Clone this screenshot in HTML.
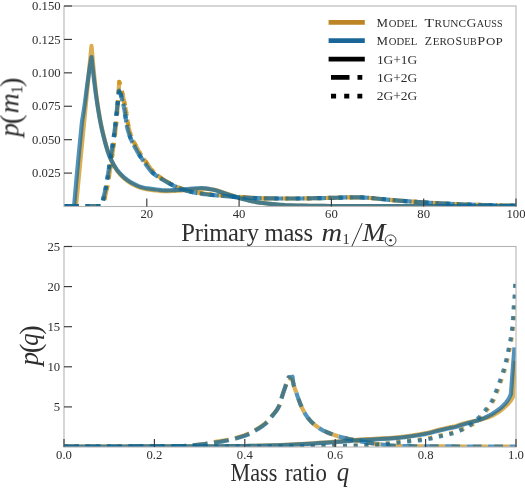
<!DOCTYPE html>
<html><head><meta charset="utf-8"><title>chart</title>
<style>html,body{margin:0;padding:0;background:#fff;}body{width:525px;height:488px;overflow:hidden;font-family:"Liberation Serif",serif;}</style>
</head><body>
<svg width="525" height="488" viewBox="0 0 525 488" style="display:block">
<rect width="525" height="488" fill="#fff"/>
<defs><clipPath id="ct"><rect x="64.0" y="6.0" width="452.0" height="200.5"/></clipPath><clipPath id="cb"><rect x="64.0" y="246.5" width="452.0" height="200.5"/></clipPath></defs>
<g clip-path="url(#ct)">
<path d="M64.00,206.00 L75.40,206.00 L76.00,206.00 L91.50,45.90 L92.42,56.61 L93.33,66.75 L94.25,76.24 L95.17,85.00 L96.08,92.95 L97.00,100.00 L97.88,106.09 L98.77,111.70 L99.65,116.86 L100.53,121.61 L101.42,125.98 L102.30,130.00 L103.68,135.87 L105.07,141.38 L106.45,146.46 L107.83,151.07 L109.22,155.13 L110.60,158.60 L112.10,161.87 L113.60,164.83 L115.10,167.50 L116.60,169.89 L118.10,171.98 L119.60,173.80 L121.65,175.98 L123.70,177.94 L125.75,179.69 L127.80,181.24 L129.85,182.61 L131.90,183.80 L133.95,184.88 L136.00,185.90 L138.05,186.82 L140.10,187.62 L142.15,188.29 L144.20,188.80 L146.00,189.14 L147.80,189.43 L149.60,189.68 L151.40,189.90 L153.20,190.10 L155.00,190.30 L156.67,190.49 L158.33,190.69 L160.00,190.89 L161.67,191.05 L163.33,191.16 L165.00,191.20 L167.50,191.18 L170.00,191.11 L172.50,191.01 L175.00,190.88 L177.50,190.75 L180.00,190.60 L182.00,190.45 L184.00,190.26 L186.00,190.04 L188.00,189.81 L190.00,189.59 L192.00,189.40 L193.83,189.23 L195.67,189.06 L197.50,188.88 L199.33,188.74 L201.17,188.64 L203.00,188.60 L204.67,188.64 L206.33,188.73 L208.00,188.88 L209.67,189.07 L211.33,189.28 L213.00,189.50 L215.17,189.91 L217.33,190.50 L219.50,191.21 L221.67,191.99 L223.83,192.77 L226.00,193.50 L228.33,194.25 L230.67,195.04 L233.00,195.83 L235.33,196.60 L237.67,197.33 L240.00,198.00 L243.33,198.91 L246.67,199.80 L250.00,200.64 L253.33,201.41 L256.67,202.08 L260.00,202.60 L265.00,203.24 L270.00,203.82 L275.00,204.34 L280.00,204.76 L285.00,205.09 L290.00,205.30 L296.67,205.49 L303.33,205.65 L310.00,205.78 L316.67,205.88 L323.33,205.95 L330.00,206.00 L341.67,206.06 L353.33,206.11 L365.00,206.15 L376.67,206.18 L388.33,206.19 L400.00,206.20 L419.33,206.20 L438.67,206.20 L458.00,206.20 L477.33,206.20 L496.67,206.20 L516.00,206.20" fill="none" stroke="#cd8c0a" stroke-opacity="0.7" stroke-width="4.2" stroke-linejoin="round" stroke-linecap="square"/>
<path d="M64.00,206.00 L102.60,206.00" fill="none" stroke="#cd8c0a" stroke-opacity="0.7" stroke-width="4.2" stroke-linejoin="round" stroke-linecap="butt" stroke-dasharray="14.98 6.48" stroke-dashoffset="0.00"/><path d="M102.60,206.00 L102.88,205.07 L103.17,204.10 L103.45,203.10 L103.73,202.07 L104.02,201.00 L104.30,199.90 L104.80,197.87 L105.30,195.75 L105.80,193.53 L106.30,191.22 L106.80,188.81 L107.30,186.30 L107.50,185.25 L107.70,184.16 L107.90,183.03 L108.10,181.87 L108.30,180.69 L108.50,179.50 L108.87,177.28 L109.23,175.01 L109.60,172.68 L109.97,170.30 L110.33,167.87 L110.70,165.40 L111.50,160.01 L112.29,154.61 L113.09,149.05 L113.89,143.19 L114.68,136.89 L115.48,130.00 L115.81,126.86 L116.15,123.50 L116.48,119.94 L116.82,116.17 L117.16,112.19 L117.49,108.00 L117.77,104.21 L118.06,100.15 L118.34,95.86 L118.63,91.36 L118.92,86.66 L119.20,81.80 L120.22,85.13 L121.23,88.87 L122.25,92.98 L123.27,97.40 L124.28,102.09 L125.30,107.00" fill="none" stroke="#cd8c0a" stroke-opacity="0.7" stroke-width="4.2" stroke-linejoin="round" stroke-linecap="butt" stroke-dasharray="14.98 6.48" stroke-dashoffset="15.14"/><path d="M125.30,107.00 L125.95,110.61 L126.60,114.80 L127.25,119.20 L127.90,123.44 L128.55,127.17 L129.20,130.00 L130.50,134.14 L131.80,137.61 L133.10,140.57 L134.40,143.18 L135.70,145.60 L137.00,148.00 L138.43,150.58 L139.87,152.97 L141.30,155.22 L142.73,157.37 L144.17,159.45 L145.60,161.50 L146.83,163.28 L148.07,165.07 L149.30,166.81 L150.53,168.46 L151.77,169.97 L153.00,171.30 L155.00,173.19 L157.00,174.91 L159.00,176.48 L161.00,177.92 L163.00,179.25 L165.00,180.50 L167.83,182.17 L170.67,183.75 L173.50,185.22 L176.33,186.56 L179.17,187.76 L182.00,188.80 L184.17,189.50 L186.33,190.15 L188.50,190.75 L190.67,191.29 L192.83,191.77 L195.00,192.20 L197.50,192.64 L200.00,193.03 L202.50,193.39 L205.00,193.71 L207.50,194.02 L210.00,194.30 L212.17,194.53 L214.33,194.74 L216.50,194.94 L218.67,195.13 L220.83,195.31 L223.00,195.50 L225.67,195.73 L228.33,195.96 L231.00,196.18 L233.67,196.39 L236.33,196.60 L239.00,196.80 L242.50,197.07 L246.00,197.35 L249.50,197.63 L253.00,197.88 L256.50,198.07 L260.00,198.20 L263.33,198.28 L266.67,198.35 L270.00,198.41 L273.33,198.46 L276.67,198.49 L280.00,198.50 L283.33,198.50 L286.67,198.50 L290.00,198.50 L293.33,198.50 L296.67,198.50 L300.00,198.50 L302.50,198.48 L305.00,198.44 L307.50,198.39 L310.00,198.32 L312.50,198.26 L315.00,198.20 L317.67,198.15 L320.33,198.10 L323.00,198.06 L325.67,198.01 L328.33,197.96 L331.00,197.90 L333.67,197.83 L336.33,197.73 L339.00,197.63 L341.67,197.54 L344.33,197.46 L347.00,197.40 L348.50,197.38 L350.00,197.35 L351.50,197.33 L353.00,197.32 L354.50,197.30 L356.00,197.30 L357.50,197.31 L359.00,197.35 L360.50,197.40 L362.00,197.46 L363.50,197.53 L365.00,197.60 L367.67,197.76 L370.33,197.97 L373.00,198.21 L375.67,198.48 L378.33,198.75 L381.00,199.00 L383.93,199.27 L386.87,199.54 L389.80,199.82 L392.73,200.09 L395.67,200.35 L398.60,200.60 L402.17,200.89 L405.73,201.17 L409.30,201.44 L412.87,201.70 L416.43,201.96 L420.00,202.20 L423.33,202.42 L426.67,202.63 L430.00,202.84 L433.33,203.04 L436.67,203.22 L440.00,203.40 L445.00,203.65 L450.00,203.90 L455.00,204.13 L460.00,204.34 L465.00,204.54 L470.00,204.70 L477.67,204.92 L485.33,205.13 L493.00,205.32 L500.67,205.48 L508.33,205.61 L516.00,205.70" fill="none" stroke="#cd8c0a" stroke-opacity="0.7" stroke-width="4.2" stroke-linejoin="round" stroke-linecap="butt" stroke-dasharray="14.98 6.48" stroke-dashoffset="8.67"/>
<path d="M64.00,206.00 L102.60,206.00" fill="none" stroke="#cd8c0a" stroke-opacity="0.7" stroke-width="4.2" stroke-linejoin="round" stroke-linecap="butt" stroke-dasharray="4.05 6.68" stroke-dashoffset="0.00"/><path d="M102.60,206.00 L102.88,205.07 L103.17,204.10 L103.45,203.10 L103.73,202.07 L104.02,201.00 L104.30,199.90 L104.80,197.87 L105.30,195.75 L105.80,193.53 L106.30,191.22 L106.80,188.81 L107.30,186.30 L107.50,185.25 L107.70,184.16 L107.90,183.03 L108.10,181.87 L108.30,180.69 L108.50,179.50 L108.87,177.28 L109.23,175.01 L109.60,172.68 L109.97,170.30 L110.33,167.87 L110.70,165.40 L111.50,160.01 L112.29,154.61 L113.09,149.05 L113.89,143.19 L114.68,136.89 L115.48,130.00 L115.81,126.86 L116.15,123.50 L116.48,119.94 L116.82,116.17 L117.16,112.19 L117.49,108.00 L117.77,104.21 L118.06,100.15 L118.34,95.86 L118.63,91.36 L118.92,86.66 L119.20,81.80 L120.22,85.13 L121.23,88.87 L122.25,92.98 L123.27,97.40 L124.28,102.09 L125.30,107.00" fill="none" stroke="#cd8c0a" stroke-opacity="0.7" stroke-width="4.2" stroke-linejoin="round" stroke-linecap="butt" stroke-dasharray="4.05 6.68" stroke-dashoffset="4.41"/><path d="M125.30,107.00 L125.95,110.61 L126.60,114.80 L127.25,119.20 L127.90,123.44 L128.55,127.17 L129.20,130.00 L130.50,134.14 L131.80,137.61 L133.10,140.57 L134.40,143.18 L135.70,145.60 L137.00,148.00 L138.43,150.58 L139.87,152.97 L141.30,155.22 L142.73,157.37 L144.17,159.45 L145.60,161.50 L146.83,163.28 L148.07,165.07 L149.30,166.81 L150.53,168.46 L151.77,169.97 L153.00,171.30 L155.00,173.19 L157.00,174.91 L159.00,176.48 L161.00,177.92 L163.00,179.25 L165.00,180.50 L167.83,182.17 L170.67,183.75 L173.50,185.22 L176.33,186.56 L179.17,187.76 L182.00,188.80 L184.17,189.50 L186.33,190.15 L188.50,190.75 L190.67,191.29 L192.83,191.77 L195.00,192.20 L197.50,192.64 L200.00,193.03 L202.50,193.39 L205.00,193.71 L207.50,194.02 L210.00,194.30 L212.17,194.53 L214.33,194.74 L216.50,194.94 L218.67,195.13 L220.83,195.31 L223.00,195.50 L225.67,195.73 L228.33,195.96 L231.00,196.18 L233.67,196.39 L236.33,196.60 L239.00,196.80 L242.50,197.07 L246.00,197.35 L249.50,197.63 L253.00,197.88 L256.50,198.07 L260.00,198.20 L263.33,198.28 L266.67,198.35 L270.00,198.41 L273.33,198.46 L276.67,198.49 L280.00,198.50 L283.33,198.50 L286.67,198.50 L290.00,198.50 L293.33,198.50 L296.67,198.50 L300.00,198.50 L302.50,198.48 L305.00,198.44 L307.50,198.39 L310.00,198.32 L312.50,198.26 L315.00,198.20 L317.67,198.15 L320.33,198.10 L323.00,198.06 L325.67,198.01 L328.33,197.96 L331.00,197.90 L333.67,197.83 L336.33,197.73 L339.00,197.63 L341.67,197.54 L344.33,197.46 L347.00,197.40 L348.50,197.38 L350.00,197.35 L351.50,197.33 L353.00,197.32 L354.50,197.30 L356.00,197.30 L357.50,197.31 L359.00,197.35 L360.50,197.40 L362.00,197.46 L363.50,197.53 L365.00,197.60 L367.67,197.76 L370.33,197.97 L373.00,198.21 L375.67,198.48 L378.33,198.75 L381.00,199.00 L383.93,199.27 L386.87,199.54 L389.80,199.82 L392.73,200.09 L395.67,200.35 L398.60,200.60 L402.17,200.89 L405.73,201.17 L409.30,201.44 L412.87,201.70 L416.43,201.96 L420.00,202.20 L423.33,202.42 L426.67,202.63 L430.00,202.84 L433.33,203.04 L436.67,203.22 L440.00,203.40 L445.00,203.65 L450.00,203.90 L455.00,204.13 L460.00,204.34 L465.00,204.54 L470.00,204.70 L477.67,204.92 L485.33,205.13 L493.00,205.32 L500.67,205.48 L508.33,205.61 L516.00,205.70" fill="none" stroke="#cd8c0a" stroke-opacity="0.7" stroke-width="4.2" stroke-linejoin="round" stroke-linecap="butt" stroke-dasharray="4.05 6.68" stroke-dashoffset="5.94"/>
<path d="M64.00,206.00 L73.40,206.00 L74.10,206.00 L75.80,186.53 L77.50,167.93 L79.20,150.00 L79.70,144.92 L80.20,139.96 L80.70,135.00 L81.17,130.06 L81.63,125.12 L82.10,121.00 L82.40,119.04 L82.70,117.35 L83.00,115.60 L83.77,110.68 L84.53,105.52 L85.30,100.00 L85.67,97.06 L86.03,93.95 L86.40,91.00 L88.10,78.56 L89.80,67.07 L91.50,57.00 L92.37,65.13 L93.23,72.92 L94.10,80.34 L94.97,87.35 L95.83,93.92 L96.70,100.00 L97.58,105.82 L98.47,111.37 L99.35,116.60 L100.23,121.48 L101.12,125.96 L102.00,130.00 L103.40,135.86 L104.80,141.34 L106.20,146.38 L107.60,150.93 L109.00,154.92 L110.40,158.30 L111.93,161.48 L113.47,164.34 L115.00,166.91 L116.53,169.19 L118.07,171.22 L119.60,173.00 L121.65,175.13 L123.70,177.06 L125.75,178.80 L127.80,180.35 L129.85,181.72 L131.90,182.90 L133.95,183.96 L136.00,184.96 L138.05,185.86 L140.10,186.64 L142.15,187.30 L144.20,187.80 L146.00,188.14 L147.80,188.42 L149.60,188.67 L151.40,188.89 L153.20,189.09 L155.00,189.30 L156.67,189.51 L158.33,189.73 L160.00,189.95 L161.67,190.13 L163.33,190.25 L165.00,190.30 L167.50,190.28 L170.00,190.23 L172.50,190.15 L175.00,190.04 L177.50,189.93 L180.00,189.80 L182.00,189.66 L184.00,189.45 L186.00,189.21 L188.00,188.97 L190.00,188.75 L192.00,188.60 L193.67,188.51 L195.33,188.41 L197.00,188.33 L198.67,188.26 L200.33,188.22 L202.00,188.20 L203.67,188.25 L205.33,188.40 L207.00,188.63 L208.67,188.90 L210.33,189.20 L212.00,189.50 L214.17,189.97 L216.33,190.58 L218.50,191.28 L220.67,192.03 L222.83,192.78 L225.00,193.50 L227.33,194.26 L229.67,195.04 L232.00,195.84 L234.33,196.61 L236.67,197.34 L239.00,198.00 L242.50,198.92 L246.00,199.81 L249.50,200.65 L253.00,201.41 L256.50,202.07 L260.00,202.60 L265.00,203.23 L270.00,203.81 L275.00,204.33 L280.00,204.76 L285.00,205.09 L290.00,205.30 L296.67,205.49 L303.33,205.65 L310.00,205.78 L316.67,205.88 L323.33,205.95 L330.00,206.00 L341.67,206.06 L353.33,206.11 L365.00,206.15 L376.67,206.18 L388.33,206.19 L400.00,206.20 L419.33,206.20 L438.67,206.20 L458.00,206.20 L477.33,206.20 L496.67,206.20 L516.00,206.20" fill="none" stroke="#08659e" stroke-opacity="0.7" stroke-width="4.2" stroke-linejoin="round" stroke-linecap="square"/>
<path d="M64.00,206.00 L101.30,206.00 L101.58,205.07 L101.87,204.10 L102.15,203.10 L102.43,202.07 L102.72,201.00 L103.00,199.90 L103.50,197.87 L104.00,195.75 L104.50,193.53 L105.00,191.22 L105.50,188.81 L106.00,186.30 L106.20,185.25 L106.40,184.16 L106.60,183.03 L106.80,181.87 L107.00,180.69 L107.20,179.50 L107.57,177.27 L107.93,174.96 L108.30,172.60 L108.67,170.21 L109.03,167.80 L109.40,165.40 L110.28,159.74 L111.17,154.20 L112.05,148.60 L112.93,142.81 L113.82,136.66 L114.70,130.00 L115.10,126.66 L115.50,123.03 L115.90,119.24 L116.30,115.38 L116.70,111.60 L117.10,108.00 L117.45,104.99 L117.80,102.03 L118.15,99.12 L118.50,96.27 L118.85,93.46 L119.20,90.70 L119.98,92.59 L120.77,94.88 L121.55,97.52 L122.33,100.45 L123.12,103.63 L123.90,107.00 L124.55,110.37 L125.20,114.48 L125.85,118.92 L126.50,123.26 L127.15,127.09 L127.80,130.00 L129.10,134.23 L130.40,137.80 L131.70,140.86 L133.00,143.57 L134.30,146.06 L135.60,148.50 L137.03,151.10 L138.47,153.50 L139.90,155.75 L141.33,157.88 L142.77,159.95 L144.20,162.00 L145.43,163.79 L146.67,165.60 L147.90,167.36 L149.13,169.02 L150.37,170.52 L151.60,171.80 L153.83,173.75 L156.07,175.47 L158.30,177.00 L160.53,178.40 L162.77,179.72 L165.00,181.00 L167.83,182.61 L170.67,184.18 L173.50,185.66 L176.33,187.03 L179.17,188.25 L182.00,189.30 L184.17,190.00 L186.33,190.65 L188.50,191.25 L190.67,191.79 L192.83,192.27 L195.00,192.70 L197.50,193.14 L200.00,193.53 L202.50,193.89 L205.00,194.21 L207.50,194.52 L210.00,194.80 L212.17,195.03 L214.33,195.24 L216.50,195.44 L218.67,195.63 L220.83,195.81 L223.00,196.00 L225.67,196.24 L228.33,196.47 L231.00,196.71 L233.67,196.93 L236.33,197.13 L239.00,197.30 L242.50,197.49 L246.00,197.68 L249.50,197.84 L253.00,197.99 L256.50,198.11 L260.00,198.20 L263.33,198.27 L266.67,198.34 L270.00,198.41 L273.33,198.46 L276.67,198.49 L280.00,198.50 L283.33,198.50 L286.67,198.50 L290.00,198.50 L293.33,198.50 L296.67,198.50 L300.00,198.50 L302.50,198.48 L305.00,198.44 L307.50,198.39 L310.00,198.32 L312.50,198.26 L315.00,198.20 L317.67,198.15 L320.33,198.10 L323.00,198.06 L325.67,198.01 L328.33,197.96 L331.00,197.90 L333.67,197.83 L336.33,197.73 L339.00,197.63 L341.67,197.54 L344.33,197.46 L347.00,197.40 L348.50,197.38 L350.00,197.35 L351.50,197.33 L353.00,197.32 L354.50,197.30 L356.00,197.30 L357.50,197.31 L359.00,197.35 L360.50,197.40 L362.00,197.46 L363.50,197.53 L365.00,197.60 L367.67,197.76 L370.33,197.97 L373.00,198.21 L375.67,198.48 L378.33,198.75 L381.00,199.00 L383.93,199.27 L386.87,199.54 L389.80,199.82 L392.73,200.09 L395.67,200.35 L398.60,200.60 L402.17,200.89 L405.73,201.17 L409.30,201.44 L412.87,201.70 L416.43,201.96 L420.00,202.20 L423.33,202.42 L426.67,202.63 L430.00,202.84 L433.33,203.04 L436.67,203.22 L440.00,203.40 L445.00,203.65 L450.00,203.90 L455.00,204.13 L460.00,204.34 L465.00,204.54 L470.00,204.70 L477.67,204.92 L485.33,205.13 L493.00,205.32 L500.67,205.48 L508.33,205.61 L516.00,205.70" fill="none" stroke="#08659e" stroke-opacity="0.7" stroke-width="4.2" stroke-linejoin="round" stroke-linecap="butt" stroke-dasharray="14.98 6.48"/>
<path d="M64.00,206.00 L101.30,206.00 L101.58,205.07 L101.87,204.10 L102.15,203.10 L102.43,202.07 L102.72,201.00 L103.00,199.90 L103.50,197.87 L104.00,195.75 L104.50,193.53 L105.00,191.22 L105.50,188.81 L106.00,186.30 L106.20,185.25 L106.40,184.16 L106.60,183.03 L106.80,181.87 L107.00,180.69 L107.20,179.50 L107.57,177.27 L107.93,174.96 L108.30,172.60 L108.67,170.21 L109.03,167.80 L109.40,165.40 L110.28,159.74 L111.17,154.20 L112.05,148.60 L112.93,142.81 L113.82,136.66 L114.70,130.00 L115.10,126.69 L115.50,123.13 L115.90,119.39 L116.30,115.57 L116.70,111.74 L117.10,108.00 L117.45,104.79 L117.80,101.57 L118.15,98.36 L118.50,95.14 L118.85,91.92 L119.20,88.70 L119.98,91.06 L120.77,93.75 L121.55,96.72 L122.33,99.94 L123.12,103.38 L123.90,107.00 L124.55,110.51 L125.20,114.66 L125.85,119.07 L126.50,123.35 L127.15,127.12 L127.80,130.00 L129.10,134.23 L130.40,137.80 L131.70,140.86 L133.00,143.57 L134.30,146.06 L135.60,148.50 L137.03,151.10 L138.47,153.50 L139.90,155.75 L141.33,157.88 L142.77,159.95 L144.20,162.00 L145.43,163.79 L146.67,165.60 L147.90,167.36 L149.13,169.02 L150.37,170.52 L151.60,171.80 L153.83,173.75 L156.07,175.47 L158.30,177.00 L160.53,178.40 L162.77,179.72 L165.00,181.00 L167.83,182.61 L170.67,184.18 L173.50,185.66 L176.33,187.03 L179.17,188.25 L182.00,189.30 L184.17,190.00 L186.33,190.65 L188.50,191.25 L190.67,191.79 L192.83,192.27 L195.00,192.70 L197.50,193.14 L200.00,193.53 L202.50,193.89 L205.00,194.21 L207.50,194.52 L210.00,194.80 L212.17,195.03 L214.33,195.24 L216.50,195.44 L218.67,195.63 L220.83,195.81 L223.00,196.00 L225.67,196.24 L228.33,196.47 L231.00,196.71 L233.67,196.93 L236.33,197.13 L239.00,197.30 L242.50,197.49 L246.00,197.68 L249.50,197.84 L253.00,197.99 L256.50,198.11 L260.00,198.20 L263.33,198.27 L266.67,198.34 L270.00,198.41 L273.33,198.46 L276.67,198.49 L280.00,198.50 L283.33,198.50 L286.67,198.50 L290.00,198.50 L293.33,198.50 L296.67,198.50 L300.00,198.50 L302.50,198.48 L305.00,198.44 L307.50,198.39 L310.00,198.32 L312.50,198.26 L315.00,198.20 L317.67,198.15 L320.33,198.10 L323.00,198.06 L325.67,198.01 L328.33,197.96 L331.00,197.90 L333.67,197.83 L336.33,197.73 L339.00,197.63 L341.67,197.54 L344.33,197.46 L347.00,197.40 L348.50,197.38 L350.00,197.35 L351.50,197.33 L353.00,197.32 L354.50,197.30 L356.00,197.30 L357.50,197.31 L359.00,197.35 L360.50,197.40 L362.00,197.46 L363.50,197.53 L365.00,197.60 L367.67,197.76 L370.33,197.97 L373.00,198.21 L375.67,198.48 L378.33,198.75 L381.00,199.00 L383.93,199.27 L386.87,199.54 L389.80,199.82 L392.73,200.09 L395.67,200.35 L398.60,200.60 L402.17,200.89 L405.73,201.17 L409.30,201.44 L412.87,201.70 L416.43,201.96 L420.00,202.20 L423.33,202.42 L426.67,202.63 L430.00,202.84 L433.33,203.04 L436.67,203.22 L440.00,203.40 L445.00,203.65 L450.00,203.90 L455.00,204.13 L460.00,204.34 L465.00,204.54 L470.00,204.70 L477.67,204.92 L485.33,205.13 L493.00,205.32 L500.67,205.48 L508.33,205.61 L516.00,205.70" fill="none" stroke="#08659e" stroke-opacity="0.7" stroke-width="4.2" stroke-linejoin="round" stroke-linecap="butt" stroke-dasharray="4.05 6.68"/>
</g>
<g clip-path="url(#cb)">
<path d="M64.00,446.50 L78.33,446.50 L92.67,446.49 L107.00,446.49 L121.33,446.48 L135.67,446.46 L150.00,446.45 L163.33,446.43 L176.67,446.41 L190.00,446.37 L203.33,446.33 L216.67,446.27 L230.00,446.20 L235.00,446.16 L240.00,446.09 L245.00,446.01 L250.00,445.92 L255.00,445.81 L260.00,445.70 L265.00,445.58 L270.00,445.44 L275.00,445.28 L280.00,445.10 L285.00,444.91 L290.00,444.70 L294.77,444.47 L299.53,444.19 L304.30,443.89 L309.07,443.56 L313.83,443.23 L318.60,442.90 L323.33,442.57 L328.07,442.24 L332.80,441.90 L337.53,441.54 L342.27,441.18 L347.00,440.80 L349.07,440.62 L351.13,440.43 L353.20,440.24 L355.27,440.04 L357.33,439.86 L359.40,439.70 L365.33,439.31 L371.27,438.99 L377.20,438.70 L383.13,438.40 L389.07,438.04 L395.00,437.60 L399.95,437.13 L404.90,436.55 L409.85,435.88 L414.80,435.12 L419.75,434.29 L424.70,433.40 L427.37,432.85 L430.03,432.20 L432.70,431.50 L435.37,430.78 L438.03,430.06 L440.70,429.40 L442.25,429.04 L443.80,428.68 L445.35,428.32 L446.90,427.97 L448.45,427.63 L450.00,427.30 L450.83,427.13 L451.67,426.97 L452.50,426.82 L453.33,426.66 L454.17,426.49 L455.00,426.30 L456.22,425.97 L457.43,425.60 L458.65,425.19 L459.87,424.77 L461.08,424.37 L462.30,424.00 L463.58,423.64 L464.87,423.29 L466.15,422.95 L467.43,422.63 L468.72,422.31 L470.00,422.00 L471.53,421.65 L473.07,421.33 L474.60,421.01 L476.13,420.70 L477.67,420.36 L479.20,420.00 L480.73,419.61 L482.27,419.21 L483.80,418.79 L485.33,418.34 L486.87,417.84 L488.40,417.30 L489.95,416.69 L491.50,416.00 L493.05,415.24 L494.60,414.42 L496.15,413.54 L497.70,412.60 L498.92,411.80 L500.13,410.92 L501.35,409.97 L502.57,408.96 L503.78,407.90 L505.00,406.80 L505.93,405.93 L506.87,405.04 L507.80,404.09 L508.73,403.09 L509.67,401.99 L510.60,400.80 L510.98,400.26 L511.37,399.67 L511.75,399.04 L512.13,398.38 L512.52,397.69 L512.90,397.00 L514.80,362.90" fill="none" stroke="#cd8c0a" stroke-opacity="0.7" stroke-width="4.2" stroke-linejoin="round" stroke-linecap="square"/>
<path d="M64.00,446.50 L78.33,446.50 L92.67,446.50 L107.00,446.49 L121.33,446.48 L135.67,446.47 L150.00,446.45 L153.50,446.44 L157.00,446.43 L160.50,446.40 L164.00,446.37 L167.50,446.34 L171.00,446.30 L173.50,446.27 L176.00,446.22 L178.50,446.16 L181.00,446.09 L183.50,446.00 L186.00,445.90 L187.13,445.84 L188.27,445.75 L189.40,445.65 L190.53,445.53 L191.67,445.41 L192.80,445.30 L195.20,445.07 L197.60,444.84 L200.00,444.60 L202.40,444.34 L204.80,444.04 L207.20,443.70 L208.42,443.49 L209.63,443.23 L210.85,442.94 L212.07,442.64 L213.28,442.36 L214.50,442.10 L216.83,441.67 L219.17,441.29 L221.50,440.92 L223.83,440.55 L226.17,440.15 L228.50,439.70 L229.58,439.47 L230.67,439.22 L231.75,438.96 L232.83,438.68 L233.92,438.40 L235.00,438.10 L237.45,437.41 L239.90,436.70 L242.35,435.94 L244.80,435.12 L247.25,434.21 L249.70,433.20 L250.58,432.79 L251.47,432.32 L252.35,431.82 L253.23,431.29 L254.12,430.75 L255.00,430.20 L257.00,428.98 L259.00,427.75 L261.00,426.46 L263.00,425.08 L265.00,423.54 L267.00,421.80 L267.77,421.03 L268.53,420.16 L269.30,419.21 L270.07,418.22 L270.83,417.21 L271.60,416.20 L272.93,414.56 L274.27,413.02 L275.60,411.43 L276.93,409.64 L278.27,407.51 L279.60,404.90 L279.97,403.95 L280.33,402.74 L280.70,401.39 L281.07,399.97 L281.43,398.57 L281.80,397.30 L282.50,395.09 L283.20,392.96 L283.90,390.88 L284.60,388.85 L285.30,386.82 L286.00,384.80 L286.43,383.55 L286.87,382.30 L287.30,381.06 L287.73,379.84 L288.17,378.61 L288.60,377.40 L292.50,379.90" fill="none" stroke="#cd8c0a" stroke-opacity="0.7" stroke-width="4.2" stroke-linejoin="round" stroke-linecap="butt" stroke-dasharray="14.98 6.48"/>
<path d="M292.50,379.90 L292.70,380.83 L292.90,381.74 L293.10,382.62 L293.30,383.46 L293.50,384.26 L293.70,385.00 L294.12,386.41 L294.53,387.70 L294.95,388.90 L295.37,390.06 L295.78,391.21 L296.20,392.40 L296.70,393.87 L297.20,395.35 L297.70,396.82 L298.20,398.26 L298.70,399.66 L299.20,401.00 L299.72,402.33 L300.23,403.64 L300.75,404.91 L301.27,406.13 L301.78,407.30 L302.30,408.40 L302.92,409.65 L303.53,410.85 L304.15,412.00 L304.77,413.10 L305.38,414.13 L306.00,415.10 L306.72,416.17 L307.43,417.18 L308.15,418.14 L308.87,419.05 L309.58,419.91 L310.30,420.70 L311.22,421.64 L312.13,422.52 L313.05,423.35 L313.97,424.13 L314.88,424.88 L315.80,425.60 L316.83,426.40 L317.87,427.18 L318.90,427.93 L319.93,428.64 L320.97,429.30 L322.00,429.90 L323.23,430.54 L324.47,431.14 L325.70,431.69 L326.93,432.21 L328.17,432.71 L329.40,433.20 L330.62,433.67 L331.83,434.13 L333.05,434.57 L334.27,435.00 L335.48,435.41 L336.70,435.80 L337.93,436.18 L339.17,436.56 L340.40,436.91 L341.63,437.26 L342.87,437.59 L344.10,437.90 L345.08,438.14 L346.07,438.36 L347.05,438.58 L348.03,438.79 L349.02,438.99 L350.00,439.20 L352.00,439.62 L354.00,440.04 L356.00,440.45 L358.00,440.85 L360.00,441.24 L362.00,441.60 L364.33,442.01 L366.67,442.40 L369.00,442.78 L371.33,443.14 L373.67,443.48 L376.00,443.80 L378.67,444.16 L381.33,444.52 L384.00,444.86 L386.67,445.17 L389.33,445.42 L392.00,445.60 L395.00,445.75 L398.00,445.88 L401.00,445.99 L404.00,446.08 L407.00,446.15 L410.00,446.20 L415.00,446.27 L420.00,446.32 L425.00,446.37 L430.00,446.41 L435.00,446.44 L440.00,446.45 L452.67,446.47 L465.33,446.48 L478.00,446.49 L490.67,446.49 L503.33,446.50 L516.00,446.50" fill="none" stroke="#cd8c0a" stroke-opacity="0.7" stroke-width="4.2" stroke-linejoin="round" stroke-linecap="butt" stroke-dasharray="14.98 6.48" stroke-dashoffset="1.71"/>
<path d="M64.00,446.50 L123.00,446.50 L182.00,446.49 L241.00,446.48 L300.00,446.45 L310.00,446.42 L320.00,446.35 L330.00,446.24 L340.00,446.10 L344.00,446.01 L348.00,445.89 L352.00,445.74 L356.00,445.60 L358.75,445.51 L361.50,445.42 L364.25,445.32 L367.00,445.20 L369.50,445.08 L372.00,444.94 L374.50,444.78 L377.00,444.60 L379.50,444.36 L382.00,444.07 L384.50,443.74 L387.00,443.40 L389.85,442.99 L392.70,442.53 L395.55,442.09 L398.40,441.70 L401.05,441.40 L403.70,441.12 L406.35,440.86 L409.00,440.60 L411.73,440.33 L414.45,440.08 L417.17,439.81 L419.90,439.50 L422.47,439.16 L425.05,438.78 L427.62,438.36 L430.20,437.90 L432.82,437.35 L435.45,436.71 L438.07,436.04 L440.70,435.40 L443.32,434.81 L445.95,434.25 L448.57,433.66 L451.20,433.00 L453.85,432.24 L456.50,431.40 L459.15,430.49 L461.80,429.50" fill="none" stroke="#cd8c0a" stroke-opacity="0.7" stroke-width="4.2" stroke-linejoin="round" stroke-linecap="butt" stroke-dasharray="4.05 6.68"/><path d="M461.80,429.50 L464.22,428.54 L466.65,427.50 L469.07,426.34 L471.50,425.00 L473.55,423.65 L475.60,422.07 L477.65,420.30 L479.70,418.40 L481.45,416.61 L483.20,414.63 L484.95,412.51 L486.70,410.30 L488.25,408.33 L489.80,406.31 L491.35,404.07 L492.90,401.50 L493.95,399.39 L495.00,396.93 L496.05,394.28 L497.10,391.60 L498.03,389.21 L498.95,386.74 L499.88,384.19 L500.80,381.60 L501.68,379.15 L502.55,376.67 L503.43,374.08 L504.30,371.30 L504.98,368.97 L505.65,366.49 L506.32,363.86 L507.00,361.10 L507.55,358.72 L508.10,356.20 L508.65,353.58 L509.20,350.90 L509.73,348.34 L510.25,345.73 L510.77,342.99 L511.30,340.00 L511.70,337.59 L512.10,335.04 L512.50,332.20 L512.90,328.90 L513.12,326.68 L513.35,324.10 L513.57,321.27 L513.80,318.30 L513.97,315.76 L514.15,312.98 L514.33,310.18 L514.50,307.60 L514.73,304.80 L514.95,302.30 L515.17,299.67 L515.40,296.50 L515.52,294.23 L515.65,291.57 L515.77,288.74 L515.90,286.00 L515.92,285.48 L515.95,284.95 L515.98,284.42 L516.00,283.90" fill="none" stroke="#cd8c0a" stroke-opacity="0.7" stroke-width="4.2" stroke-linejoin="round" stroke-linecap="butt" stroke-dasharray="4.05 6.68" stroke-dashoffset="1.54"/>
<path d="M64.00,446.50 L78.33,446.50 L92.67,446.49 L107.00,446.49 L121.33,446.48 L135.67,446.46 L150.00,446.45 L163.33,446.43 L176.67,446.41 L190.00,446.37 L203.33,446.33 L216.67,446.27 L230.00,446.20 L235.00,446.16 L240.00,446.11 L245.00,446.05 L250.00,445.97 L255.00,445.89 L260.00,445.80 L265.00,445.70 L270.00,445.57 L275.00,445.43 L280.00,445.27 L285.00,445.09 L290.00,444.90 L294.77,444.68 L299.53,444.43 L304.30,444.14 L309.07,443.83 L313.83,443.51 L318.60,443.20 L323.33,442.89 L328.07,442.57 L332.80,442.24 L337.53,441.90 L342.27,441.56 L347.00,441.20 L349.07,441.04 L351.13,440.86 L353.20,440.69 L355.27,440.51 L357.33,440.35 L359.40,440.20 L365.33,439.84 L371.27,439.54 L377.20,439.26 L383.13,438.97 L389.07,438.63 L395.00,438.20 L399.95,437.74 L404.90,437.18 L409.85,436.52 L414.80,435.78 L419.75,434.97 L424.70,434.10 L427.37,433.56 L430.03,432.94 L432.70,432.25 L435.37,431.55 L438.03,430.85 L440.70,430.20 L442.25,429.84 L443.80,429.48 L445.35,429.12 L446.90,428.77 L448.45,428.43 L450.00,428.10 L450.83,427.93 L451.67,427.77 L452.50,427.62 L453.33,427.46 L454.17,427.29 L455.00,427.10 L456.22,426.78 L457.43,426.40 L458.65,426.00 L459.87,425.59 L461.08,425.18 L462.30,424.80 L463.58,424.42 L464.87,424.05 L466.15,423.69 L467.43,423.33 L468.72,422.97 L470.00,422.60 L471.53,422.17 L473.07,421.74 L474.60,421.32 L476.13,420.88 L477.67,420.41 L479.20,419.90 L480.73,419.35 L482.27,418.76 L483.80,418.13 L485.33,417.46 L486.87,416.75 L488.40,416.00 L489.95,415.19 L491.50,414.31 L493.05,413.37 L494.60,412.37 L496.15,411.31 L497.70,410.20 L498.92,409.29 L500.13,408.34 L501.35,407.33 L502.57,406.24 L503.78,405.07 L505.00,403.80 L505.60,403.12 L506.20,402.39 L506.80,401.61 L507.40,400.77 L508.00,399.87 L508.60,398.90 L508.98,398.23 L509.37,397.49 L509.75,396.70 L510.13,395.87 L510.52,395.00 L510.90,394.10 L514.30,349.40" fill="none" stroke="#08659e" stroke-opacity="0.7" stroke-width="4.2" stroke-linejoin="round" stroke-linecap="square"/>
<path d="M64.00,446.50 L78.33,446.50 L92.67,446.50 L107.00,446.49 L121.33,446.48 L135.67,446.47 L150.00,446.45 L153.50,446.44 L157.00,446.43 L160.50,446.40 L164.00,446.37 L167.50,446.34 L171.00,446.30 L173.50,446.27 L176.00,446.22 L178.50,446.16 L181.00,446.09 L183.50,446.00 L186.00,445.90 L187.13,445.84 L188.27,445.75 L189.40,445.65 L190.53,445.53 L191.67,445.41 L192.80,445.30 L195.20,445.06 L197.60,444.81 L200.00,444.55 L202.40,444.28 L204.80,443.99 L207.20,443.70 L208.42,443.55 L209.63,443.39 L210.85,443.22 L212.07,443.05 L213.28,442.88 L214.50,442.70 L216.83,442.35 L219.17,441.98 L221.50,441.60 L223.83,441.19 L226.17,440.76 L228.50,440.30 L229.58,440.07 L230.67,439.82 L231.75,439.56 L232.83,439.28 L233.92,439.00 L235.00,438.70 L237.45,438.01 L239.90,437.30 L242.35,436.54 L244.80,435.72 L247.25,434.81 L249.70,433.80 L250.58,433.39 L251.47,432.92 L252.35,432.42 L253.23,431.89 L254.12,431.35 L255.00,430.80 L257.00,429.58 L259.00,428.35 L261.00,427.06 L263.00,425.68 L265.00,424.14 L267.00,422.40 L267.77,421.63 L268.53,420.77 L269.30,419.83 L270.07,418.84 L270.83,417.82 L271.60,416.80 L272.93,415.11 L274.27,413.47 L275.60,411.77 L276.93,409.86 L278.27,407.62 L279.60,404.90 L279.97,403.93 L280.33,402.72 L280.70,401.37 L281.07,399.95 L281.43,398.57 L281.80,397.30 L282.50,395.09 L283.20,392.96 L283.90,390.88 L284.60,388.85 L285.30,386.82 L286.00,384.80 L286.43,383.55 L286.87,382.30 L287.30,381.06 L287.73,379.84 L288.17,378.61 L288.60,377.40 L292.50,376.70 L292.70,378.33 L292.90,379.92 L293.10,381.43 L293.30,382.80 L293.50,384.01 L293.70,385.00 L294.12,386.64 L294.53,387.99 L294.95,389.15 L295.37,390.21 L295.78,391.26 L296.20,392.40 L296.70,393.87 L297.20,395.35 L297.70,396.82 L298.20,398.26 L298.70,399.66 L299.20,401.00 L299.72,402.33 L300.23,403.64 L300.75,404.91 L301.27,406.13 L301.78,407.30 L302.30,408.40 L302.92,409.65 L303.53,410.85 L304.15,412.00 L304.77,413.10 L305.38,414.13 L306.00,415.10 L306.72,416.17 L307.43,417.18 L308.15,418.14 L308.87,419.05 L309.58,419.91 L310.30,420.70 L311.22,421.64 L312.13,422.52 L313.05,423.35 L313.97,424.13 L314.88,424.88 L315.80,425.60 L316.83,426.40 L317.87,427.18 L318.90,427.93 L319.93,428.64 L320.97,429.30 L322.00,429.90 L323.23,430.54 L324.47,431.14 L325.70,431.69 L326.93,432.21 L328.17,432.71 L329.40,433.20 L330.62,433.67 L331.83,434.13 L333.05,434.57 L334.27,435.00 L335.48,435.41 L336.70,435.80 L337.93,436.18 L339.17,436.56 L340.40,436.91 L341.63,437.26 L342.87,437.59 L344.10,437.90 L345.08,438.14 L346.07,438.36 L347.05,438.58 L348.03,438.79 L349.02,438.99 L350.00,439.20 L352.00,439.62 L354.00,440.04 L356.00,440.45 L358.00,440.85 L360.00,441.24 L362.00,441.60 L364.33,442.01 L366.67,442.40 L369.00,442.78 L371.33,443.14 L373.67,443.48 L376.00,443.80 L378.67,444.16 L381.33,444.52 L384.00,444.86 L386.67,445.17 L389.33,445.42 L392.00,445.60 L395.00,445.75 L398.00,445.88 L401.00,445.99 L404.00,446.08 L407.00,446.15 L410.00,446.20 L415.00,446.27 L420.00,446.32 L425.00,446.37 L430.00,446.41 L435.00,446.44 L440.00,446.45 L452.67,446.47 L465.33,446.48 L478.00,446.49 L490.67,446.49 L503.33,446.50 L516.00,446.50" fill="none" stroke="#08659e" stroke-opacity="0.7" stroke-width="4.2" stroke-linejoin="round" stroke-linecap="butt" stroke-dasharray="14.98 6.48"/>
<path d="M64.00,446.50 L123.00,446.50 L182.00,446.49 L241.00,446.48 L300.00,446.45 L310.00,446.42 L320.00,446.35 L330.00,446.24 L340.00,446.10 L344.00,446.01 L348.00,445.89 L352.00,445.74 L356.00,445.60 L358.75,445.51 L361.50,445.42 L364.25,445.32 L367.00,445.20 L369.50,445.07 L372.00,444.93 L374.50,444.77 L377.00,444.60 L379.50,444.42 L382.00,444.23 L384.50,444.02 L387.00,443.80 L389.85,443.50 L392.70,443.17 L395.55,442.83 L398.40,442.50 L401.05,442.22 L403.70,441.94 L406.35,441.67 L409.00,441.40 L411.73,441.13 L414.45,440.88 L417.17,440.61 L419.90,440.30 L422.47,439.96 L425.05,439.58 L427.62,439.16 L430.20,438.70 L432.82,438.15 L435.45,437.51 L438.07,436.84 L440.70,436.20 L443.32,435.62 L445.95,435.07 L448.57,434.48 L451.20,433.80 L453.75,433.00 L456.30,432.07 L458.85,431.03 L461.40,429.90 L463.72,428.77 L466.05,427.51 L468.38,426.13 L470.70,424.60 L472.75,423.09 L474.80,421.41 L476.85,419.57 L478.90,417.60 L480.65,415.78 L482.40,413.80 L484.15,411.70 L485.90,409.50 L487.45,407.53 L489.00,405.51 L490.55,403.27 L492.10,400.70 L493.15,398.59 L494.20,396.13 L495.25,393.48 L496.30,390.80 L497.23,388.41 L498.15,385.94 L499.07,383.39 L500.00,380.80 L500.88,378.35 L501.75,375.87 L502.62,373.28 L503.50,370.50 L504.18,368.17 L504.85,365.69 L505.52,363.06 L506.20,360.30 L506.75,357.90 L507.30,355.35 L507.85,352.72 L508.40,350.10 L508.92,347.69 L509.45,345.31 L509.98,342.80 L510.50,340.00 L510.90,337.65 L511.30,335.09 L511.70,332.22 L512.10,328.90 L512.33,326.68 L512.55,324.10 L512.77,321.27 L513.00,318.30 L513.17,315.76 L513.35,312.98 L513.53,310.18 L513.70,307.60 L513.93,304.80 L514.15,302.30 L514.38,299.67 L514.60,296.50 L514.73,294.23 L514.85,291.57 L514.98,288.74 L515.10,286.00 L515.12,285.48 L515.15,284.95 L515.18,284.42 L515.20,283.90" fill="none" stroke="#08659e" stroke-opacity="0.7" stroke-width="4.2" stroke-linejoin="round" stroke-linecap="butt" stroke-dasharray="4.05 6.68"/>
</g>
<rect x="64.0" y="6.0" width="452.0" height="200.5" fill="none" stroke="#b4b4b4" stroke-width="1.1"/>
<rect x="64.0" y="246.5" width="452.0" height="200.5" fill="none" stroke="#b4b4b4" stroke-width="1.1"/>
<g font-family="'Liberation Serif', serif" fill="#2e2e2e" opacity="0.999">
<line x1="146.80" y1="206.5" x2="146.80" y2="198.5" stroke="#3a3a3a" stroke-width="1.15"/>
<text x="146.80" y="218.10" font-size="12.7" text-anchor="middle"  >20</text>
<line x1="239.10" y1="206.5" x2="239.10" y2="198.5" stroke="#3a3a3a" stroke-width="1.15"/>
<text x="239.10" y="218.10" font-size="12.7" text-anchor="middle"  >40</text>
<line x1="331.40" y1="206.5" x2="331.40" y2="198.5" stroke="#3a3a3a" stroke-width="1.15"/>
<text x="331.40" y="218.10" font-size="12.7" text-anchor="middle"  >60</text>
<line x1="423.70" y1="206.5" x2="423.70" y2="198.5" stroke="#3a3a3a" stroke-width="1.15"/>
<text x="423.70" y="218.10" font-size="12.7" text-anchor="middle"  >80</text>
<line x1="516.00" y1="206.5" x2="516.00" y2="198.5" stroke="#3a3a3a" stroke-width="1.15"/>
<text x="516.00" y="218.10" font-size="12.7" text-anchor="middle"  >100</text>
<line x1="64.0" y1="6.00" x2="72.0" y2="6.00" stroke="#3a3a3a" stroke-width="1.15"/>
<text x="60.60" y="10.20" font-size="12.7" text-anchor="end"  >0.150</text>
<line x1="64.0" y1="39.42" x2="72.0" y2="39.42" stroke="#3a3a3a" stroke-width="1.15"/>
<text x="60.60" y="43.62" font-size="12.7" text-anchor="end"  >0.125</text>
<line x1="64.0" y1="72.84" x2="72.0" y2="72.84" stroke="#3a3a3a" stroke-width="1.15"/>
<text x="60.60" y="77.04" font-size="12.7" text-anchor="end"  >0.100</text>
<line x1="64.0" y1="106.26" x2="72.0" y2="106.26" stroke="#3a3a3a" stroke-width="1.15"/>
<text x="60.60" y="110.46" font-size="12.7" text-anchor="end"  >0.075</text>
<line x1="64.0" y1="139.68" x2="72.0" y2="139.68" stroke="#3a3a3a" stroke-width="1.15"/>
<text x="60.60" y="143.88" font-size="12.7" text-anchor="end"  >0.050</text>
<line x1="64.0" y1="173.10" x2="72.0" y2="173.10" stroke="#3a3a3a" stroke-width="1.15"/>
<text x="60.60" y="177.30" font-size="12.7" text-anchor="end"  >0.025</text>
<line x1="64.00" y1="447.0" x2="64.00" y2="439.0" stroke="#3a3a3a" stroke-width="1.15"/>
<text x="64.00" y="458.80" font-size="12.7" text-anchor="middle"  >0.0</text>
<line x1="154.40" y1="447.0" x2="154.40" y2="439.0" stroke="#3a3a3a" stroke-width="1.15"/>
<text x="154.40" y="458.80" font-size="12.7" text-anchor="middle"  >0.2</text>
<line x1="244.80" y1="447.0" x2="244.80" y2="439.0" stroke="#3a3a3a" stroke-width="1.15"/>
<text x="244.80" y="458.80" font-size="12.7" text-anchor="middle"  >0.4</text>
<line x1="335.20" y1="447.0" x2="335.20" y2="439.0" stroke="#3a3a3a" stroke-width="1.15"/>
<text x="335.20" y="458.80" font-size="12.7" text-anchor="middle"  >0.6</text>
<line x1="425.60" y1="447.0" x2="425.60" y2="439.0" stroke="#3a3a3a" stroke-width="1.15"/>
<text x="425.60" y="458.80" font-size="12.7" text-anchor="middle"  >0.8</text>
<line x1="516.00" y1="447.0" x2="516.00" y2="439.0" stroke="#3a3a3a" stroke-width="1.15"/>
<text x="516.00" y="458.80" font-size="12.7" text-anchor="middle"  >1.0</text>
<line x1="64.0" y1="246.50" x2="72.0" y2="246.50" stroke="#3a3a3a" stroke-width="1.15"/>
<text x="60.20" y="250.70" font-size="12.7" text-anchor="end"  >25</text>
<line x1="64.0" y1="286.60" x2="72.0" y2="286.60" stroke="#3a3a3a" stroke-width="1.15"/>
<text x="60.20" y="290.80" font-size="12.7" text-anchor="end"  >20</text>
<line x1="64.0" y1="326.70" x2="72.0" y2="326.70" stroke="#3a3a3a" stroke-width="1.15"/>
<text x="60.20" y="330.90" font-size="12.7" text-anchor="end"  >15</text>
<line x1="64.0" y1="366.80" x2="72.0" y2="366.80" stroke="#3a3a3a" stroke-width="1.15"/>
<text x="60.20" y="371.00" font-size="12.7" text-anchor="end"  >10</text>
<line x1="64.0" y1="406.90" x2="72.0" y2="406.90" stroke="#3a3a3a" stroke-width="1.15"/>
<text x="60.20" y="411.10" font-size="12.7" text-anchor="end"  >5</text>
<text x="181.3" y="240.7" font-size="24.6" textLength="131.7" lengthAdjust="spacing">Primary mass</text>
<text x="321.4" y="240.7" font-size="24.6" font-style="italic" textLength="20.6" lengthAdjust="spacingAndGlyphs">m</text>
<text x="342.6" y="243.8" font-size="14.5" textLength="7.2" lengthAdjust="spacingAndGlyphs">1</text>
<line x1="351.9" y1="246.3" x2="362.2" y2="223.1" stroke="#2e2e2e" stroke-width="1"/>
<text x="362.6" y="240.7" font-size="24.6" font-style="italic" textLength="23" lengthAdjust="spacingAndGlyphs">M</text>
<circle cx="390.6" cy="240.3" r="5.4" fill="none" stroke="#2e2e2e" stroke-width="0.9"/><circle cx="390.6" cy="240.3" r="1.2" fill="#2e2e2e"/>
<text x="230.5" y="481.3" font-size="24.6" textLength="46.8" lengthAdjust="spacingAndGlyphs">Mass</text>
<text x="285.0" y="481.3" font-size="24.6" textLength="41.8" lengthAdjust="spacingAndGlyphs">ratio</text>
<text x="336.8" y="481.3" font-size="26.5" font-style="italic" textLength="12.4" lengthAdjust="spacingAndGlyphs">q</text>
<g transform="translate(18.4,138.4) rotate(-90)"><text x="1.8" y="0" font-size="26.5" font-style="italic" textLength="13.6" lengthAdjust="spacingAndGlyphs">p</text><text x="14.2" y="2.4" font-size="28.9">(</text><text x="25.0" y="0" font-size="26.5" font-style="italic" textLength="20.2" lengthAdjust="spacingAndGlyphs">m</text><text x="44.6" y="3.6" font-size="16.5" textLength="8.4" lengthAdjust="spacingAndGlyphs">1</text><text x="51.2" y="2.4" font-size="28.9">)</text></g>
<g transform="translate(37.5,367.3) rotate(-90)"><text x="1.8" y="0" font-size="26.5" font-style="italic" textLength="13.6" lengthAdjust="spacingAndGlyphs">p</text><text x="14.0" y="2.4" font-size="28.9">(</text><text x="21.6" y="0" font-size="26.5" font-style="italic" textLength="12.4" lengthAdjust="spacingAndGlyphs">q</text><text x="32.6" y="2.4" font-size="28.9">)</text></g>
<line x1="328.6" x2="364.8" y1="22.3" y2="22.3" stroke="#bd8526" stroke-width="4.7"/>
<line x1="328.6" x2="364.8" y1="40.6" y2="40.6" stroke="#1b6698" stroke-width="4.7"/>
<line x1="328.6" x2="364.8" y1="59.2" y2="59.2" stroke="#000" stroke-width="4.7"/>
<line x1="331" x2="362.3" y1="77.4" y2="77.4" stroke="#000" stroke-width="4.7" stroke-dasharray="18.5 8"/>
<line x1="331" x2="362.3" y1="96.2" y2="96.2" stroke="#000" stroke-width="4.7" stroke-dasharray="5.1 8.1"/>
<text x="376.50" y="26.5" font-size="12.5" textLength="11.50" lengthAdjust="spacingAndGlyphs">M</text>
<text x="388.80" y="26.5" font-size="9.6" textLength="28.40" lengthAdjust="spacingAndGlyphs">ODEL</text>
<text x="424.50" y="26.5" font-size="12.5" textLength="9.50" lengthAdjust="spacingAndGlyphs">T</text>
<text x="434.60" y="26.5" font-size="9.6" textLength="31.40" lengthAdjust="spacingAndGlyphs">RUNC</text>
<text x="466.50" y="26.5" font-size="12.5" textLength="9.90" lengthAdjust="spacingAndGlyphs">G</text>
<text x="476.80" y="26.5" font-size="9.6" textLength="25.80" lengthAdjust="spacingAndGlyphs">AUSS</text>
<text x="376.50" y="44.8" font-size="12.5" textLength="11.50" lengthAdjust="spacingAndGlyphs">M</text>
<text x="388.80" y="44.8" font-size="9.6" textLength="28.40" lengthAdjust="spacingAndGlyphs">ODEL</text>
<text x="424.70" y="44.8" font-size="12.5" textLength="7.30" lengthAdjust="spacingAndGlyphs">Z</text>
<text x="432.80" y="44.8" font-size="9.6" textLength="22.00" lengthAdjust="spacingAndGlyphs">ERO</text>
<text x="455.40" y="44.8" font-size="12.5" textLength="6.60" lengthAdjust="spacingAndGlyphs">S</text>
<text x="462.70" y="44.8" font-size="9.6" textLength="13.90" lengthAdjust="spacingAndGlyphs">UB</text>
<text x="477.30" y="44.8" font-size="12.5" textLength="7.90" lengthAdjust="spacingAndGlyphs">P</text>
<text x="486.00" y="44.8" font-size="9.6" textLength="16.60" lengthAdjust="spacingAndGlyphs">OP</text>
<text x="376.90" y="63.6" font-size="12.5" textLength="40.40" lengthAdjust="spacingAndGlyphs">1G+1G</text>
<text x="376.90" y="82.0" font-size="12.5" textLength="40.40" lengthAdjust="spacingAndGlyphs">1G+2G</text>
<text x="376.70" y="100.3" font-size="12.5" textLength="40.60" lengthAdjust="spacingAndGlyphs">2G+2G</text>
</g>
</svg>
</body></html>
